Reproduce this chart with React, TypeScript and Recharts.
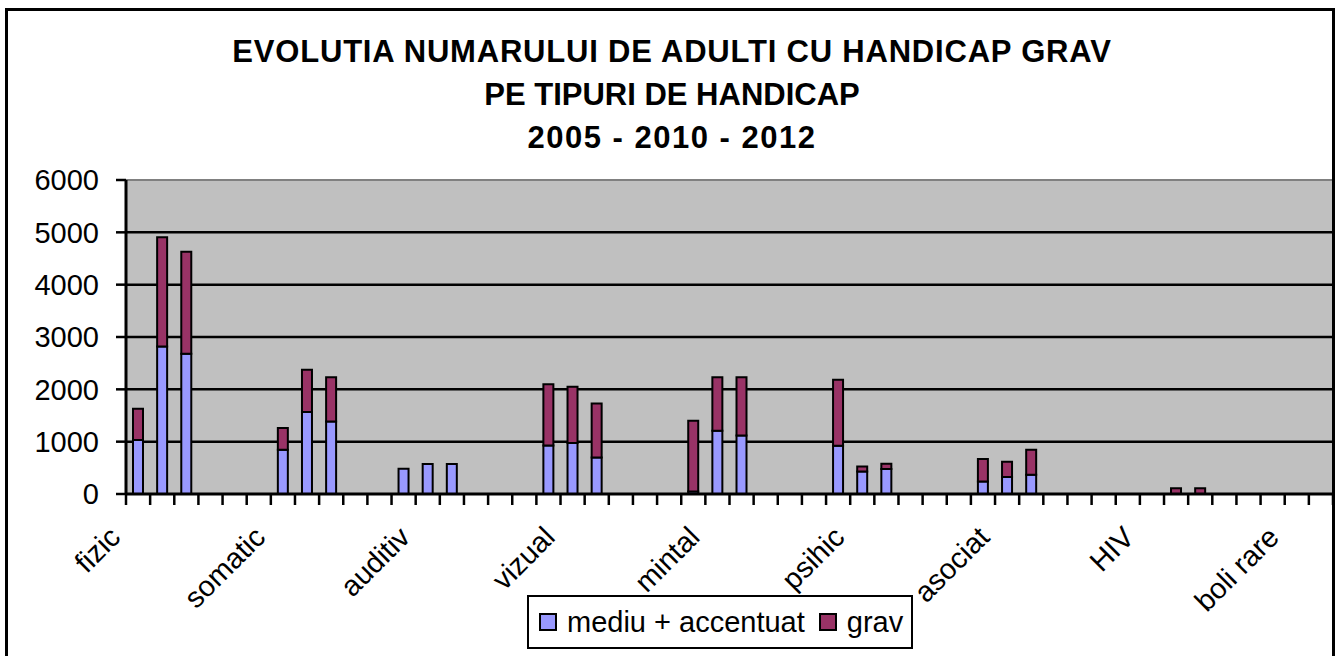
import React from "react";
import { BarChart, Bar, XAxis, YAxis, CartesianGrid, ReferenceLine, Legend } from "recharts";

const N = null;

const titleLines: string[] = [
  "EVOLUTIA NUMARULUI DE ADULTI CU HANDICAP GRAV",
  "PE TIPURI DE HANDICAP",
  "2005 - 2010 - 2012",
];

const categoryLabels: string[] = [
  "fizic", "", "", "", "", "",
  "somatic", "", "", "", "", "",
  "auditiv", "", "", "", "", "",
  "vizual", "", "", "", "", "",
  "mintal", "", "", "", "", "",
  "psihic", "", "", "", "", "",
  "asociat", "", "", "", "", "",
  "HIV", "", "", "", "", "",
  "boli rare", "",
];

const mediuAccentuat: (number | null)[] = [
  1030, 2820, 2680, N, N, N,
  845, 1565, 1385, N, N, 483,
  573, 573, N, N, N, 927,
  973, 698, N, N, N, 50,
  1208, 1118, N, N, N, 922,
  431, 477, N, N, N, 240,
  324, 368, N, N, N, N,
  N, N, N, N, N, N,
  N, N,
];

const grav: (number | null)[] = [
  600, 2085, 1950, N, N, N,
  415, 807, 848, N, N, N,
  N, N, N, N, N, 1168,
  1077, 1031, N, N, N, 1349,
  1025, 1115, N, N, N, 1259,
  96, 101, N, N, N, 428,
  292, 477, N, N, N, N,
  N, 110, 110, N, N, N,
  N, N,
];

const yTicks: number[] = [0, 1000, 2000, 3000, 4000, 5000, 6000];
const gridValues: number[] = [1000, 2000, 3000, 4000, 5000];

const seriesOrder: string[] = ["mediu", "grav"];
const seriesNames: Record<string, string> = { mediu: "mediu + accentuat", grav: "grav" };
const BLUE = "#9999FF";
const PLUM = "#993366";
const FONT = "'Liberation Sans', Arial, sans-serif";
const titleSpacing: number[] = [0.8, 0, 1.5];

const data = categoryLabels.map((label, i) => ({
  slot: i,
  label,
  mediu: mediuAccentuat[i],
  grav: grav[i],
}));

const CategoryTick = (props: any) => {
  const { x, y, payload, width, visibleTicksCount } = props;
  const step = width / visibleTicksCount;
  const label = categoryLabels[payload.value] || "";
  const ax = x - 16;
  const ay = y + 45;
  return (
    <g>
      {payload.value === 0 && (
        <line x1={x - step / 2} x2={x - step / 2} y1={y} y2={y + 11} stroke="#000" strokeWidth={2.5} />
      )}
      <line x1={x + step / 2} x2={x + step / 2} y1={y} y2={y + 11} stroke="#000" strokeWidth={2.5} />
      {label && (
        <text
          x={ax}
          y={ay}
          textAnchor="end"
          transform={`rotate(-45, ${ax}, ${ay})`}
          fontSize={29}
          fontFamily={FONT}
          fill="#000"
        >
          {label}
        </text>
      )}
    </g>
  );
};

const LegendBox = (props: any) => {
  const payload = [...(props.payload || [])].sort(
    (a: any, b: any) => seriesOrder.indexOf(a.dataKey) - seriesOrder.indexOf(b.dataKey)
  );
  return (
    <div
      style={{
        boxSizing: "border-box",
        width: 386,
        height: 54,
        border: "2px solid #000",
        background: "#fff",
        display: "flex",
        alignItems: "center",
        fontFamily: FONT,
        fontSize: 29,
        color: "#000",
        paddingLeft: 10,
        whiteSpace: "nowrap",
      }}
    >
      {payload.map((p: any, i: number) => (
        <React.Fragment key={i}>
          <span
            style={{
              display: "inline-block",
              width: 14,
              height: 14,
              border: "2px solid #000",
              background: p.color,
              marginLeft: i === 0 ? 0 : 14,
            }}
          />
          <span style={{ marginLeft: 10 }}>{p.value}</span>
        </React.Fragment>
      ))}
    </div>
  );
};

export default function App() {
  return (
    <div
      style={{
        position: "absolute",
        left: 0,
        top: 0,
        width: 1336,
        height: 656,
        overflow: "hidden",
        background: "#fff",
      }}
    >
      <BarChart
        width={1336}
        height={656}
        data={data}
        margin={{ top: 180, right: 3, bottom: 0, left: 0 }}
        barSize={10}
      >
        <CartesianGrid
          vertical={false}
          horizontalValues={gridValues}
          stroke="#000"
          strokeWidth={2.5}
          fill="#C0C0C0"
          fillOpacity={1}
        />
        <ReferenceLine y={6000} stroke="#808080" strokeWidth={2} />
        <XAxis
          dataKey="slot"
          type="category"
          interval={0}
          height={162}
          tickSize={0}
          tickMargin={0}
          tickLine={false}
          axisLine={{ stroke: "#000", strokeWidth: 3 }}
          tick={<CategoryTick />}
        />
        <YAxis
          domain={[0, 6000]}
          ticks={yTicks}
          interval={0}
          width={126}
          tickSize={10}
          tickMargin={17}
          tickLine={{ stroke: "#000", strokeWidth: 2.5 }}
          axisLine={{ stroke: "#000", strokeWidth: 3 }}
          tick={{ fill: "#000", fontSize: 29, fontFamily: FONT }}
        />
        <Legend
          verticalAlign="middle"
          align="center"
          layout="horizontal"
          content={<LegendBox />}
          wrapperStyle={{ left: 527, top: 595, width: 386, height: 54 }}
        />
        <Bar
          dataKey="mediu"
          name={seriesNames.mediu}
          stackId="a"
          fill={BLUE}
          stroke="#000"
          strokeWidth={2}
          isAnimationActive={false}
        />
        <Bar
          dataKey="grav"
          name={seriesNames.grav}
          stackId="a"
          fill={PLUM}
          stroke="#000"
          strokeWidth={2}
          isAnimationActive={false}
        />
      </BarChart>
      <svg
        width={1336}
        height={656}
        style={{ position: "absolute", left: 0, top: 0, pointerEvents: "none" }}
      >
        <rect x={6.5} y={9.5} width={1327} height={700} fill="none" stroke="#000" strokeWidth={3} />
        {titleLines.map((t, i) => (
          <text
            key={i}
            x={672}
            y={62 + i * 43}
            textAnchor="middle"
            fontSize={31}
            fontWeight="bold"
            fontFamily={FONT}
            letterSpacing={titleSpacing[i]}
            fill="#000"
          >
            {t}
          </text>
        ))}
      </svg>
    </div>
  );
}
